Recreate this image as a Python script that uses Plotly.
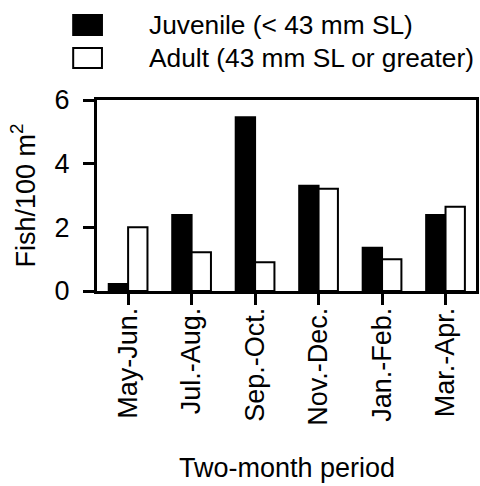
import plotly.graph_objects as go

periods = ["May-Jun.", "Jul.-Aug.", "Sep.-Oct.", "Nov.-Dec.", "Jan.-Feb.", "Mar.-Apr."]
juvenile = [0.22, 2.39, 5.46, 3.31, 1.36, 2.39]
adult = [2.0, 1.22, 0.90, 3.21, 1.0, 2.65]
series_names = ["Juvenile (< 43 mm SL)", "Adult (43 mm SL or greater)"]
y_ticks = [0, 2, 4, 6]
y_title = "Fish/100 m<sup>2</sup>"
x_title = "Two-month period"

W, H = 480, 486
L, R, T, B = 97, 1, 100, 195
FONT = "Liberation Sans, Arial, sans-serif"
FS = 27
LEG_FS = 26.3

fig = go.Figure()
fig.add_trace(go.Bar(x=periods, y=juvenile, name=series_names[0],
                     marker=dict(color="black", line=dict(color="black", width=2)),
                     showlegend=False))
fig.add_trace(go.Bar(x=periods, y=adult, name=series_names[1],
                     marker=dict(color="white", line=dict(color="black", width=2)),
                     showlegend=False))

pw = W - L - R
ph = H - T - B
def px2paper_x(px):
    return (px - L) / pw
def px2paper_y(py):
    return (H - B - py) / ph

shapes = []
annotations = []
legend_rows = [(15, 35, "black"), (48, 68, "white")]
for (y0, y1, col), name in zip(legend_rows, series_names):
    shapes.append(dict(type="rect", xref="paper", yref="paper",
                       x0=px2paper_x(73), x1=px2paper_x(102),
                       y0=px2paper_y(y1), y1=px2paper_y(y0),
                       fillcolor=col, line=dict(color="black", width=2)))
    annotations.append(dict(xref="paper", yref="paper",
                            x=px2paper_x(147), y=px2paper_y((y0 + y1) / 2),
                            xanchor="left", yanchor="middle", showarrow=False,
                            text=name, font=dict(family=FONT, size=LEG_FS, color="black")))

# x-axis title as an annotation for precise vertical placement
annotations.append(dict(xref="paper", yref="paper", x=0.5, y=px2paper_y(468),
                        xanchor="center", yanchor="middle", showarrow=False,
                        text=x_title, font=dict(family=FONT, size=FS, color="black")))

fig.update_layout(
    width=W, height=H,
    margin=dict(l=L, r=R, t=T, b=B, pad=0),
    paper_bgcolor="white", plot_bgcolor="white",
    barmode="group", bargap=0.39, bargroupgap=0,
    font=dict(family=FONT, size=FS, color="black"),
    shapes=shapes, annotations=annotations,
    showlegend=False,
)
fig.update_xaxes(
    range=[-0.49, 5.48], showline=True, linewidth=3, linecolor="black", mirror=True,
    ticks="outside", ticklen=11, tickwidth=3, tickcolor="black",
    tickangle=-90, showgrid=False, zeroline=False,
    tickfont=dict(family=FONT, size=FS, color="black"),
    ticklabelstandoff=-8,
)
fig.update_yaxes(
    range=[0, 6], tickvals=y_ticks, showline=True, linewidth=3, linecolor="black", mirror=True,
    ticks="outside", ticklen=11, tickwidth=3, tickcolor="black",
    showgrid=False, zeroline=False,
    tickfont=dict(family=FONT, size=FS, color="black"),
    ticklabelstandoff=8,
    title=dict(text=y_title, standoff=12, font=dict(family=FONT, size=FS, color="black")),
)

fig.write_html("out.html")
